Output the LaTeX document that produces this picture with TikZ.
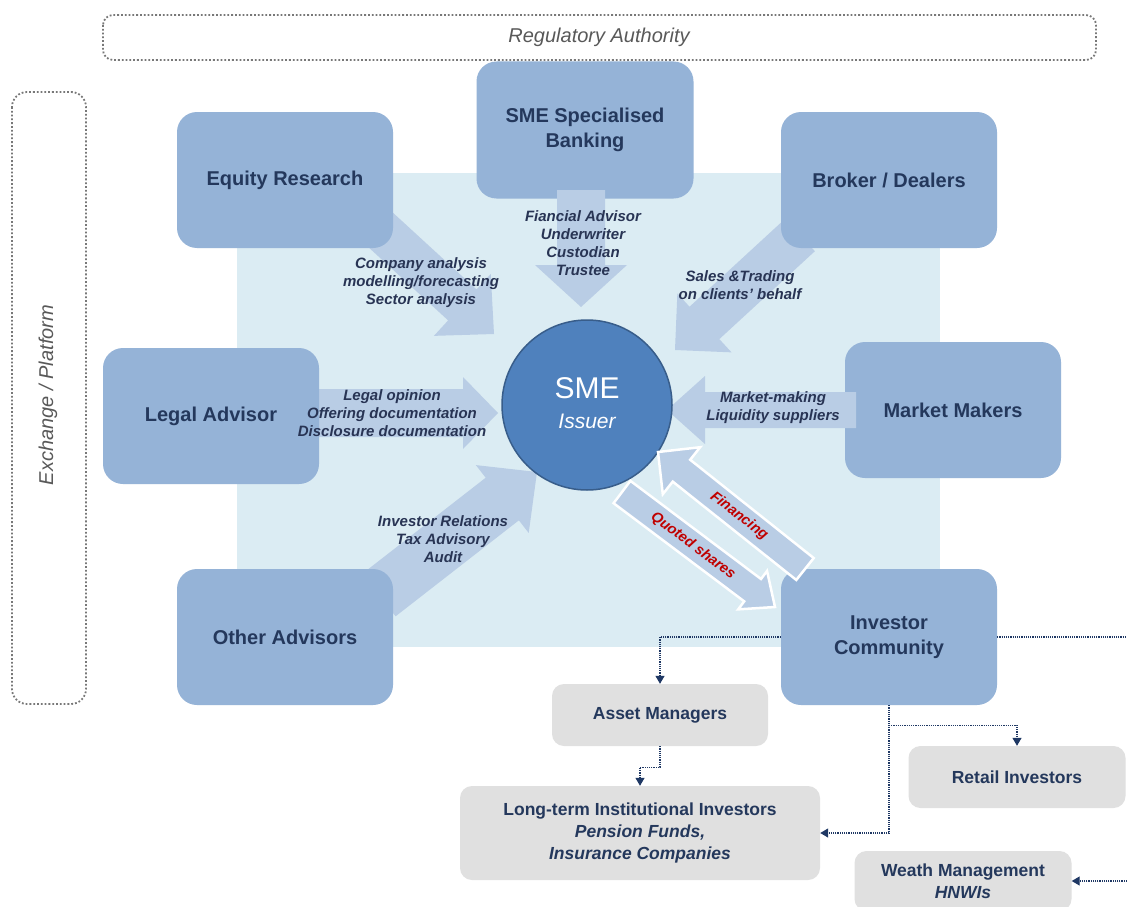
\documentclass[tikz,border=0pt]{standalone}
\usepackage{fontspec}
\setmainfont{Liberation Sans}
\usetikzlibrary{calc,arrows.meta}
\definecolor{bgblue}{RGB}{219,236,243}
\definecolor{boxblue}{RGB}{149,179,215}
\definecolor{arrfill}{RGB}{185,205,229}
\definecolor{circfill}{RGB}{79,129,189}
\definecolor{circline}{RGB}{56,93,138}
\definecolor{navytext}{RGB}{36,56,92}
\definecolor{lblcol}{RGB}{40,52,84}
\definecolor{graybox}{RGB}{224,224,224}
\definecolor{framecol}{RGB}{120,120,120}
\definecolor{regtext}{RGB}{89,89,89}
\definecolor{redtext}{RGB}{192,0,0}
\definecolor{connc}{RGB}{31,56,100}

\newcommand{\fatarrow}[6][]{%
  \coordinate (fa-s) at (#2);
  \coordinate (fa-t) at (#3);
  \coordinate (fa-h) at ($(fa-t)!#6!(fa-s)$);
  \path[#1] ($(fa-s)!#4!90:(fa-t)$) -- ($(fa-h)!#4!90:(fa-t)$) -- ($(fa-h)!#5!90:(fa-t)$)
    -- (fa-t) -- ($(fa-h)!#5!-90:(fa-t)$) -- ($(fa-h)!#4!-90:(fa-t)$)
    -- ($(fa-s)!#4!-90:(fa-t)$) -- cycle;
}

\tikzset{
  bluebox/.style={fill=boxblue, rounded corners=20pt, minimum width=216pt, minimum height=136pt,
    align=center, text=navytext, font=\fontsize{20}{25}\selectfont\bfseries, inner sep=0pt},
  graynode/.style={fill=graybox, rounded corners=12pt, align=center, text=navytext,
    font=\fontsize{17.5}{22}\selectfont\bfseries, inner sep=0pt},
  lbl/.style={align=center, text=lblcol, font=\fontsize{15}{18}\selectfont\bfseries\itshape, inner sep=0pt},
  fat/.style={fill=arrfill},
  fatw/.style={fill=arrfill, draw=white, line width=2.5pt, line join=miter},
  redlbl/.style={text=redtext, font=\fontsize{14.5}{16}\selectfont\bfseries\itshape, inner sep=0pt},
  conn/.style={draw=connc, densely dotted, line width=1.2pt, -{Triangle[width=9pt,length=8pt]}},
  dotline/.style={draw=connc, densely dotted, line width=1.2pt},
  dotframe/.style={draw=framecol, dotted, line width=1.8pt, rounded corners=10pt},
}

\begin{document}
\begin{tikzpicture}[x=1pt,y=-1pt]
\clip (0,0) rectangle (1127,907);
\fill[white] (0,0) rectangle (1127,907);

% frames
\draw[dotframe] (103,15) rectangle (1096,60);
\node[text=regtext, font=\fontsize{20}{24}\selectfont\itshape] (reg) at (599,37) {Regulatory Authority};
\draw[dotframe, rounded corners=15pt] (12,92) rectangle (86,704);
\node[text=regtext, font=\fontsize{20}{24}\selectfont\itshape, rotate=90] (exch) at (48,395) {Exchange / Platform};

% background
\fill[bgblue] (237,173) rectangle (940,647);

% arrow coordinates
\coordinate (eqS) at (372,222);  \coordinate (eqT) at (494,334);
\coordinate (sbS) at (581,190);  \coordinate (sbT) at (581,307);
\coordinate (bdS) at (800,235);  \coordinate (bdT) at (675,350);
\coordinate (laS) at (300,413);  \coordinate (laT) at (498,413);
\coordinate (mmS) at (856,410);  \coordinate (mmT) at (667,410);
\coordinate (oaS) at (379,595);  \coordinate (oaT) at (537,472);
\coordinate (fiS) at (805,569);  \coordinate (fiT) at (658,452);
\coordinate (qsS) at (622,492);  \coordinate (qsT) at (775,607);

% fat arrows under boxes
\fatarrow[fat]{eqS}{eqT}{21pt}{42pt}{43pt}
\fatarrow[fat]{bdS}{bdT}{22pt}{40pt}{40pt}
\fatarrow[fat]{laS}{laT}{24pt}{36pt}{35pt}
\fatarrow[fat]{oaS}{oaT}{27pt}{43pt}{44pt}

% blue boxes
\node[bluebox] (er) at (285,180) {Equity Research};
\node[bluebox, minimum width=217pt, minimum height=137pt] (sb) at (585,130) {SME Specialised\\Banking};
\node[bluebox] (bd) at (889,180) {Broker / Dealers};
\node[bluebox] (la) at (211,416) {Legal Advisor};
\node[bluebox] (mm) at (953,410) {Market Makers};
\node[bluebox] (oa) at (285,637) {Other Advisors};
\node[bluebox] (ic) at (889,637) {Investor\\Community};

% fat arrows over boxes
\fatarrow[fat]{sbS}{sbT}{24pt}{46pt}{42pt}
\fatarrow[fat]{mmS}{mmT}{18pt}{34pt}{38pt}

% circle
\node[circle, fill=circfill, draw=circline, line width=1.5pt, minimum size=170pt, inner sep=0pt] (sme) at (587,405) {};
\node[text=white, font=\fontsize{30}{34}\selectfont] (smet) at (587,388) {SME};
\node[text=white, font=\fontsize{21}{24}\selectfont\itshape] (smei) at (587,421) {Issuer};

% financing / quoted shares
\fatarrow[fatw]{fiS}{fiT}{14pt}{30pt}{30pt}
\fatarrow[fatw]{qsS}{qsT}{14pt}{24pt}{28pt}
\node[redlbl, rotate=-37.5] (fin) at (739,516) {Financing};
\node[redlbl, rotate=-37] (quo) at (693,546) {Quoted shares};

% arrow labels
\node[lbl] (eql) at (421,283) {Company analysis\\modelling/forecasting\\Sector analysis};
\node[lbl] (sbl) at (583,243) {Fiancial Advisor\\Underwriter\\Custodian\\Trustee};
\node[lbl] (bdl) at (740,285) {Sales \&Trading\\on clients' behalf};
\node[lbl] (lal) at (392,413) {Legal opinion\\Offering documentation\\Disclosure documentation};
\node[lbl] (mml) at (773,408) {Market-making\\Liquidity suppliers};
\node[lbl] (oal) at (443,539) {Investor Relations\\Tax Advisory\\Audit};

% gray boxes
\node[graynode, minimum width=216pt, minimum height=62pt] (am) at (660,715) {Asset Managers};
\node[graynode, minimum width=360pt, minimum height=94pt] (lt) at (640,833) {Long-term Institutional Investors\\{\itshape Pension Funds,}\\{\itshape Insurance Companies}};
\node[graynode, minimum width=217pt, minimum height=62pt] (ri) at (1017,777) {Retail Investors};
\node[graynode, minimum width=217pt, minimum height=60pt] (wm) at (963,881) {Weath Management\\{\itshape HNWIs}};

% dotted connectors
\coordinate (rightA) at (1127,637);
\coordinate (rightB) at (1127,881);
\draw[conn] (ic.west) -| (am.north);
\draw[dotline] (ic.east) -- (rightA);
\draw[conn] (am.south) -- ++(0,21) -| (lt.north);
\draw[conn] (ic.south) |- (lt.east);
\draw[conn] ($(ic.south)+(0,20)$) -| (ri.north);
\draw[conn] (rightB) -- (wm.east);
\end{tikzpicture}
\end{document}
